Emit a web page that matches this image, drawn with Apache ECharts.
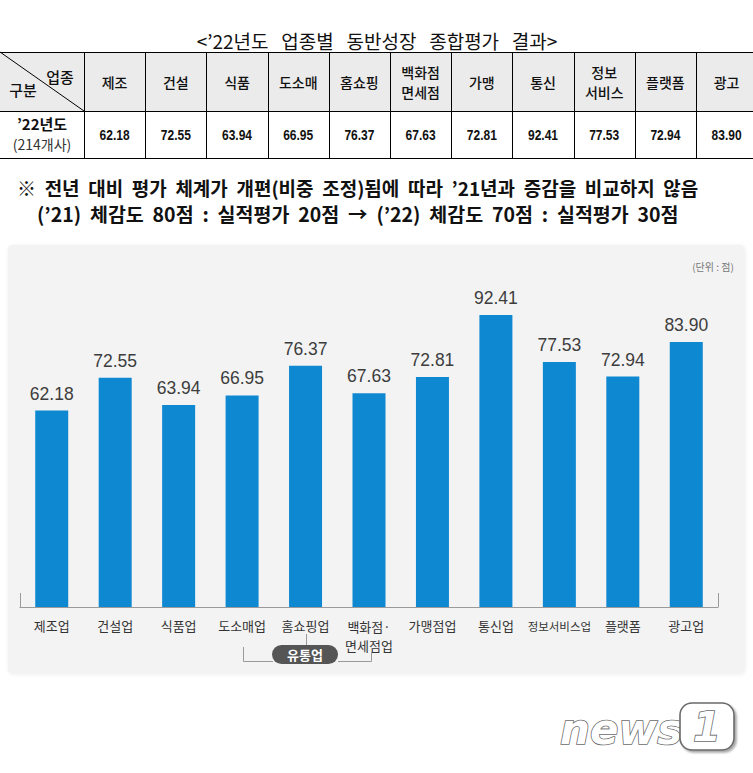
<!DOCTYPE html>
<html>
<head>
<meta charset="utf-8">
<script src="https://cdn.jsdelivr.net/npm/echarts@6/dist/echarts.min.js"></script>
<style>
html,body{margin:0;padding:0;background:#fff;}
#chart{width:753px;height:773px;}
</style>
</head>
<body>
<div id="chart"></div>
<script>
// ---- data ----
var categories = ['제조업','건설업','식품업','도소매업','홈쇼핑업','백화점·\n면세점업','가맹점업','통신업','정보서비스업','플랫폼','광고업'];
var tableHeaders = ['제조','건설','식품','도소매','홈쇼핑','백화점\n면세점','가맹','통신','정보\n서비스','플랫폼','광고'];
var scores = [62.18, 72.55, 63.94, 66.95, 76.37, 67.63, 72.81, 92.41, 77.53, 72.94, 83.90];
var titleText = "<’22년도   업종별   동반성장   종합평가   결과>";
var noteLine1 = "※  전년  대비  평가  체계가  개편(비중  조정)됨에  따라  ’21년과  증감을  비교하지  않음";
var noteLine2 = "(’21)  체감도  80점  :  실적평가  20점  →  (’22)  체감도  70점  :  실적평가  30점";
var rowLabel1 = "’22년도";
var rowLabel2 = "(214개사)";
var unitText = "(단위 : 점)";
var groupLabel = "유통업";

var KR = "'Noto Sans CJK KR','Noto Sans',sans-serif";
var NUM = "'Liberation Sans','Arial',sans-serif";

// ---- table as graphic ----
var g = [];
var colX0 = 84, colW = 61.2, rowTop = 52, rowMid = 111, rowBot = 158;
g.push({type:'rect', shape:{x:0,y:rowTop,width:753,height:rowMid-rowTop}, style:{fill:'#ebebeb'}, z:0});
[rowTop,rowMid,rowBot].forEach(function(y){
  g.push({type:'line', shape:{x1:0,y1:y+0.5,x2:753,y2:y+0.5}, style:{stroke:'#000',lineWidth:1}, z:1});
});
for (var i=0;i<=tableHeaders.length;i++){
  var x = Math.round(colX0 + i*colW)+0.5;
  g.push({type:'line', shape:{x1:x,y1:rowTop,x2:x,y2:rowBot}, style:{stroke:'#000',lineWidth:1}, z:1});
}
g.push({type:'line', shape:{x1:0,y1:rowTop,x2:colX0,y2:rowMid}, style:{stroke:'#000',lineWidth:1}, z:1});
g.push({type:'text', x:60, y:76, style:{text:'업종', font:'500 15px '+KR, fill:'#111', align:'center', verticalAlign:'middle'}, z:2});
g.push({type:'text', x:23, y:89, style:{text:'구분', font:'500 15px '+KR, fill:'#111', align:'center', verticalAlign:'middle'}, z:2});
g.push({type:'text', x:42, y:123, style:{text:rowLabel1, font:'bold 15px '+KR, fill:'#111', align:'center', verticalAlign:'middle'}, z:2});
g.push({type:'text', x:42, y:144, style:{text:rowLabel2, font:'14px '+KR, fill:'#333', align:'center', verticalAlign:'middle'}, z:2});
for (var j=0;j<tableHeaders.length;j++){
  var cx = colX0 + (j+0.5)*colW;
  var twoLine = tableHeaders[j].indexOf('\n') >= 0;
  g.push({type:'text', x:cx, y:(rowTop+rowMid)/2, style:{text:tableHeaders[j], font:'500 14px '+KR, lineHeight:twoLine?20:17, fill:'#111', align:'center', verticalAlign:'middle'}, z:2});
  g.push({type:'text', x:cx, y:(rowMid+rowBot)/2+0.5, scaleX:0.8, style:{text:scores[j].toFixed(2), font:"bold 15px 'Liberation Sans','Arial',sans-serif", fill:'#111', align:'center', verticalAlign:'middle'}, z:2});
}
// title and notes
g.push({type:'text', x:377, y:40, style:{text:titleText, font:'19px '+KR, fill:'#111', align:'center', verticalAlign:'middle'}, z:2});
g.push({type:'text', x:17, y:187, style:{text:noteLine1, font:'bold 19px '+KR, fill:'#111', align:'left', verticalAlign:'middle'}, z:2});
g.push({type:'text', x:37, y:213, style:{text:noteLine2, font:'bold 19.5px '+KR, fill:'#111', align:'left', verticalAlign:'middle'}, z:2});

// chart panel
g.push({type:'rect', shape:{x:8,y:245,width:736,height:428,r:4}, style:{fill:'#f3f3f3', shadowColor:'rgba(0,0,0,0.08)', shadowBlur:4, shadowOffsetX:1, shadowOffsetY:1}, z:-10});
g.push({type:'text', x:713, y:266, style:{text:unitText, font:'10px '+KR, fill:'#777', align:'center', verticalAlign:'middle'}, z:2});

// bracket for 유통업
var bc = '#9a9a9a';
g.push({type:'polyline', shape:{points:[[243.5,647],[243.5,661.5],[273,661.5]]}, style:{stroke:bc,lineWidth:1,fill:null}, z:2});
g.push({type:'polyline', shape:{points:[[338,661.5],[371.5,661.5],[371.5,652]]}, style:{stroke:bc,lineWidth:1,fill:null}, z:2});
g.push({type:'line', shape:{x1:306.5,y1:634,x2:306.5,y2:646}, style:{stroke:bc,lineWidth:1}, z:2});
g.push({type:'rect', shape:{x:272,y:645,width:66,height:19,r:9.5}, style:{fill:'#555555'}, z:3});
g.push({type:'text', x:305, y:654.5, style:{text:groupLabel, font:'bold 13px '+KR, fill:'#fff', align:'center', verticalAlign:'middle'}, z:4});

// news1 watermark
var wmShadow = {shadowColor:'rgba(0,0,0,0.35)', shadowBlur:2, shadowOffsetX:2, shadowOffsetY:2};
g.push({type:'text', x:560, y:729, style:Object.assign({text:'news', font:"italic bold 42px 'DejaVu Sans',sans-serif", fill:'#ffffff', stroke:'#6a6a6a', lineWidth:1.6, align:'left', verticalAlign:'middle'}, wmShadow), z:5});
g.push({type:'rect', shape:{x:680,y:703,width:54,height:47,r:12}, style:Object.assign({fill:'#ffffff', stroke:'#6a6a6a', lineWidth:1.6}, wmShadow), z:5});
g.push({type:'text', x:707, y:727, style:{text:'1', font:"italic bold 40px 'DejaVu Sans',sans-serif", fill:'#ffffff', stroke:'#6a6a6a', lineWidth:1.6, align:'center', verticalAlign:'middle'}, z:6});

var chart = echarts.init(document.getElementById('chart'), null, {renderer:'svg'});
chart.setOption({
  backgroundColor:'#ffffff',
  animation:false,
  graphic:{elements:g},
  grid:{left:20, right:35, top:291, bottom:166},
  xAxis:{
    type:'category',
    data:categories.map(function(c){
      if (c === '정보서비스업') return {value:c, textStyle:{fontSize:11.5}};
      if (c.indexOf('\n') >= 0) return {value:c, textStyle:{lineHeight:19}};
      return c;
    }),
    axisLine:{lineStyle:{color:'#9a9a9a', width:1}},
    axisTick:{show:true, inside:true, length:14, interval:function(i){return i===0;}, lineStyle:{color:'#9a9a9a'}},
    axisLabel:{interval:0, margin:10, fontSize:13, lineHeight:17, color:'#333', fontFamily:KR}
  },
  yAxis:{type:'value', min:0, max:100, show:false, splitLine:{show:false}},
  series:[{
    type:'bar',
    data:scores,
    barWidth:33,
    itemStyle:{color:'#0f88d2'},
    label:{show:true, position:'top', distance:8, fontSize:17.5, color:'#3d3d3d', fontFamily:NUM,
      formatter:function(p){return p.value.toFixed(2);}}
  }]
});
</script>
</body>
</html>
